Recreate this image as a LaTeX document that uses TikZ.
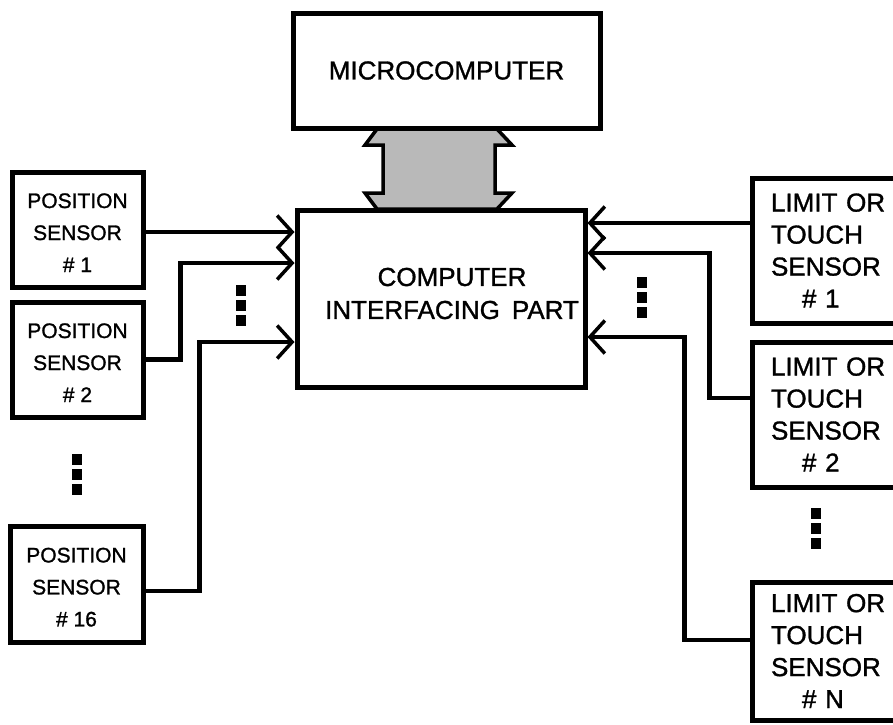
\documentclass[tikz,border=0pt]{standalone}
\usepackage{fontspec}
\setmainfont{Liberation Sans}[FakeBold=1.2]
\usetikzlibrary{arrows.meta}
\begin{document}
\begin{tikzpicture}[x=1pt,y=-1pt,
  box/.style={draw, line width=5pt, rectangle, inner sep=0pt},
  psens/.style={box, minimum width=131pt, minimum height=115pt, align=center,
    font=\fontsize{21}{32}\selectfont},
  lsens/.style={box, minimum width=153pt, minimum height=145pt, align=left,
    text width=115pt, font=\fontsize{26}{32}\selectfont},
  conn/.style={line width=4.2pt, -{Straight Barb[length=15pt,width=33pt,line width=3.5pt]}},
  bus/.style={line width=3.5pt, fill=gray!55, line join=miter},
  sqdots/.pic={\fill (-5,0) rectangle (5,11); \fill (-5,15) rectangle (5,26); \fill (-5,30) rectangle (5,41);}
]
\useasboundingbox (0,0) rectangle (893,724);

% bus between microcomputer and interface
\filldraw[bus] (377,129) -- (497,129) -- (512,145) -- (495,145) -- (495,193) -- (512,193)
  -- (497,209) -- (377,209) -- (365,193) -- (383,193) -- (383,145) -- (365,145) -- cycle;

\node[box, minimum width=307pt, minimum height=115pt, font=\fontsize{26}{32}\selectfont]
  (mc) at (446.5,70.5) {MICROCOMPUTER};
\node[box, minimum width=288pt, minimum height=177pt] (ci) at (441,298.5) {};
\node[align=center, inner sep=0pt, font=\fontsize{26}{33}\selectfont]
  (citext) at (452,293.5) {COMPUTER\\INTERFACING\hspace{12pt}PART};

\node[psens] (p1) at (77.5,229.5) {\rule{0pt}{21pt}POSITION\\SENSOR\\\# 1};
\node[psens] (p2) at (77.5,359.5) {\rule{0pt}{21pt}POSITION\\SENSOR\\\# 2};
\node[psens, minimum width=133pt, minimum height=116pt] (p16) at (76.5,584) {\rule{0pt}{21pt}POSITION\\SENSOR\\\# 16};

\node[lsens] (l1) at (828.5,250.5) {LIMIT OR\\TOUCH\\SENSOR\\\hspace*{31pt}\# 1};
\node[lsens] (l2) at (828.5,414.5) {LIMIT OR\\TOUCH\\SENSOR\\\hspace*{31pt}\# 2};
\node[lsens, minimum height=138pt] (lN) at (828.5,651) {LIMIT OR\\TOUCH\\SENSOR\\\hspace*{31pt}\# N};

% left connectors
\coordinate (s1) at ([yshift=-2.5pt]p1.east);
\draw[conn] (s1) -- (s1 -| ci.west);
\draw[conn] (p2.east) -- ++(35,0) |- (ci.west |- 0,263);
\coordinate (s3) at ([yshift=-7pt]p16.east);
\draw[conn] (s3) -- ++(54,0) |- (ci.west |- 0,342);

% right connectors
\coordinate (r1) at ([yshift=27.5pt]l1.west);
\draw[conn] (r1) -- (r1 -| ci.east);
\coordinate (r2) at ([yshift=16.5pt]l2.west);
\draw[conn] (r2) -- ++(-40,0) |- (ci.east |- 0,253);
\coordinate (r3) at ([yshift=11pt]lN.west);
\draw[conn] (r3) -- ++(-65,0) |- (ci.east |- 0,337);

% continuation dots
\pic at (241,285) {sqdots};
\pic at (77,454) {sqdots};
\pic at (642,277) {sqdots};
\pic at (816,508) {sqdots};
\end{tikzpicture}
\end{document}
